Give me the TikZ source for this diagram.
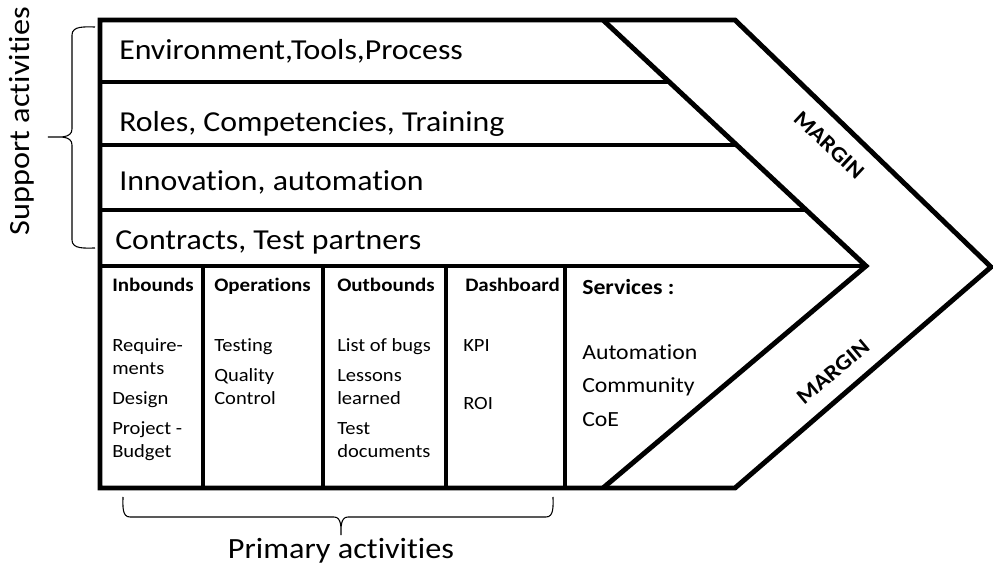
\documentclass[tikz,border=0pt]{standalone}
\usepackage{fontspec}
\setmainfont{Carlito}[FakeStretch=1.1, Ligatures={NoCommon,NoRare,NoContextual}]
\begin{document}
\begin{tikzpicture}[x=0.75pt,y=-0.75pt,
  frame/.style={line width=3.7pt, line join=miter, line cap=butt},
  bracestyle/.style={line width=0.8pt},
  rowtxt/.style={anchor=base west, inner sep=0pt, font=\fontsize{21.7}{25}\selectfont},
  hdr/.style={anchor=base west, inner sep=0pt, font=\fontsize{14.3}{17}\selectfont\bfseries},
  body/.style={anchor=base west, inner sep=0pt, font=\fontsize{14}{17}\selectfont},
  svchdr/.style={anchor=base west, inner sep=0pt, font=\fontsize{16.2}{19}\selectfont\bfseries},
  svc/.style={anchor=base west, inner sep=0pt, font=\fontsize{16.2}{19}\selectfont},
  margintxt/.style={inner sep=0pt, font=\fontsize{16.5}{19}\selectfont\bfseries},
  bigtxt/.style={inner sep=0pt, font=\fontsize{22}{26}\selectfont}]
\useasboundingbox (0,0) rectangle (993,566);

% outer chevron
\draw[frame] (100,20) -- (735,20) -- (991,267) -- (735,488) -- (100,488) -- cycle;
% inner chevron
\draw[frame] (603,20) -- (866,266) -- (603,488);
% support rows
\draw[frame] (100,82) -- (669,82);
\draw[frame] (100,145) -- (737,145);
\draw[frame] (100,210) -- (806,210);
\draw[frame] (100,266) -- (866,266);
% primary columns
\foreach \xx in {203,323,446,565} \draw[frame] (\xx,266) -- (\xx,488);

% support labels
\node[rowtxt] (env) at (119,60) {Environment,Tools,Process};
\node[rowtxt] (roles) at (119,132) {Roles, Competencies, Training};
\node[rowtxt] (innov) at (119,191) {Innovation, automation};
\node[rowtxt] (contr) at (115,250) {Contracts, Test partners};

% inbounds
\node[hdr] (inh) at (112,292) {Inbounds};
\node[body] (in1) at (112,352) {Require-};
\node[body] (in2) at (112,375) {ments};
\node[body] (in3) at (112,405) {Design};
\node[body] (in4) at (112,435) {Project -};
\node[body] (in5) at (112,458) {Budget};
% operations
\node[hdr] (oph) at (214,292) {Operations};
\node[body] (op1) at (214,352) {Testing};
\node[body] (op2) at (214,382) {Quality};
\node[body] (op3) at (214,405) {Control};
% outbounds
\node[hdr] (outh) at (337,292) {Outbounds};
\node[body] (out1) at (337,352) {List of bugs};
\node[body] (out2) at (337,382) {Lessons};
\node[body] (out3) at (337,405) {learned};
\node[body] (out4) at (337,435) {Test};
\node[body] (out5) at (337,458) {documents};
% dashboard
\node[hdr] (dah) at (465,292) {Dashboard};
\node[body] (da1) at (463,352) {KPI};
\node[body] (da2) at (463,410) {ROI};
% services
\node[svchdr] (svh) at (582,295) {Services :};
\node[svc] (sv1) at (582,360) {Automation};
\node[svc] (sv2) at (582,393) {Community};
\node[svc] (sv3) at (582,427) {CoE};

% margin labels
\node[margintxt, rotate=-43] (m1) at (829,145) {MARGIN};
\node[margintxt, rotate=40] (m2) at (833,372) {MARGIN};

% support brace
\draw[bracestyle] (95,27) to[out=180,in=90] (72,35) -- (72,129)
  to[out=-90,in=0] (48,137) to[out=0,in=90] (72,145) -- (72,240)
  to[out=-90,in=180] (95,248);
\node[bigtxt, rotate=90, anchor=base] (sup) at (29,121) {Support activities};

% primary brace
\draw[bracestyle] (123,497) to[out=-90,in=180] (130,517) -- (334,517)
  to[out=0,in=90] (341,535) to[out=90,in=180] (348,517) -- (546,517)
  to[out=0,in=-90] (553,497);
\node[bigtxt, anchor=base] (prim) at (341,558) {Primary activities};
\end{tikzpicture}
\end{document}
